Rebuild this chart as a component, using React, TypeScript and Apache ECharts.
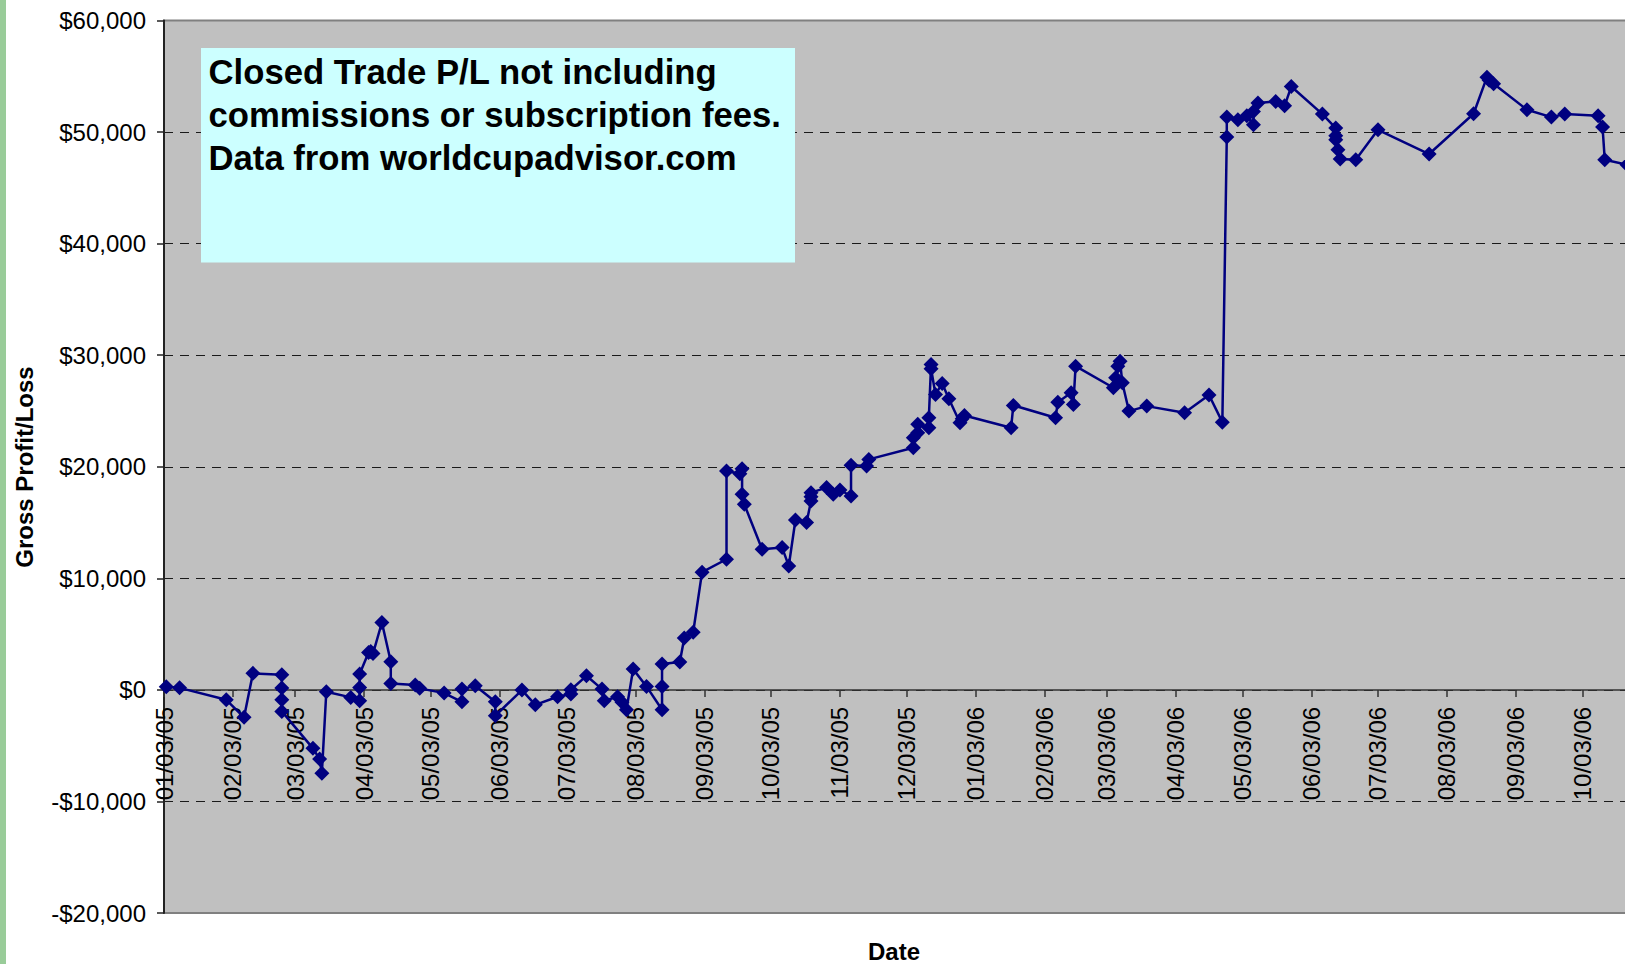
import React, { useEffect, useRef } from "react";
import * as echarts from "echarts";

// Trade dates (YYYY-MM-DD) and cumulative gross profit/loss in dollars
const tradeDates: string[] = [
  "2005-01-04", "2005-01-10", "2005-01-31", "2005-02-08", "2005-02-12",
  "2005-02-25", "2005-02-25", "2005-02-25", "2005-02-25",
  "2005-03-11", "2005-03-14", "2005-03-15", "2005-03-17", "2005-03-28",
  "2005-04-01", "2005-04-01", "2005-04-01",
  "2005-04-05", "2005-04-06", "2005-04-07", "2005-04-11",
  "2005-04-15", "2005-04-15", "2005-04-26", "2005-04-28",
  "2005-05-09", "2005-05-17", "2005-05-17", "2005-05-23",
  "2005-06-01", "2005-06-01", "2005-06-13", "2005-06-19", "2005-06-29",
  "2005-07-05", "2005-07-05", "2005-07-12", "2005-07-19", "2005-07-20",
  "2005-07-26", "2005-07-28", "2005-07-30", "2005-08-02", "2005-08-08",
  "2005-08-15", "2005-08-15", "2005-08-15", "2005-08-23", "2005-08-25",
  "2005-08-29", "2005-09-02", "2005-09-13", "2005-09-13",
  "2005-09-19", "2005-09-20", "2005-09-20", "2005-09-21",
  "2005-09-29", "2005-10-08", "2005-10-11", "2005-10-14", "2005-10-19",
  "2005-10-21", "2005-10-21", "2005-10-21", "2005-10-28", "2005-10-31",
  "2005-11-03", "2005-11-08", "2005-11-08", "2005-11-15", "2005-11-16",
  "2005-12-06", "2005-12-06", "2005-12-08", "2005-12-08",
  "2005-12-13", "2005-12-13", "2005-12-14", "2005-12-14",
  "2005-12-16", "2005-12-19", "2005-12-22", "2005-12-27", "2005-12-28", "2005-12-29",
  "2006-01-19", "2006-01-20", "2006-02-08", "2006-02-09", "2006-02-15",
  "2006-02-16", "2006-02-17", "2006-03-06", "2006-03-07", "2006-03-08",
  "2006-03-09", "2006-03-10", "2006-03-13", "2006-03-21", "2006-04-07",
  "2006-04-18", "2006-04-24", "2006-04-26", "2006-04-26",
  "2006-05-01", "2006-05-05", "2006-05-08", "2006-05-08", "2006-05-10",
  "2006-05-18", "2006-05-22", "2006-05-25", "2006-06-08",
  "2006-06-14", "2006-06-14", "2006-06-14", "2006-06-15", "2006-06-16",
  "2006-06-23", "2006-07-03", "2006-07-26", "2006-08-15",
  "2006-08-21", "2006-08-22", "2006-08-24", "2006-09-08", "2006-09-19",
  "2006-09-25", "2006-10-10", "2006-10-12", "2006-10-13", "2006-10-23",
];

const profitLoss: number[] = [
  280, 180, -890, -2460, 1480,
  1350, 160, -890, -1930,
  -5240, -6200, -7475, -170, -675,
  -975, 220, 1415,
  3350, 3450, 3250, 6040,
  2515, 580, 430, 135,
  -290, -1065, 70, 370,
  -1065, -2320, -20, -1340, -615,
  -375, 10, 1260, 70, -975,
  -615, -1120, -1780, 1860, 310,
  -1780, 310, 2310, 2490, 4650,
  5170, 10550, 11710, 19615,
  19380, 19830, 17530, 16630,
  12605, 12755, 11110, 15230, 14995,
  16930, 17300, 17680, 18130, 17530,
  17915, 17380, 20125, 20065, 20660,
  21710, 22600, 23050, 23800,
  23500, 24400, 29170, 28780,
  26480, 27470, 26100, 23950, 24300, 24600,
  23500, 25500, 24395, 25790, 26630,
  25585, 29015, 27080, 27975, 29015,
  29460, 27530, 24990, 25435, 24840,
  26430, 24000, 49550, 51340,
  51100, 51460, 50650, 51845, 52595,
  52740, 52355, 54080, 51610,
  50360, 49670, 49310, 48415, 47580,
  47520, 50200, 48030, 51640,
  54920, 54650, 54325, 52000, 51340,
  51610, 51460, 50450, 47520, 47070,
];

// Month tick dates on the x axis (labels shown as MM/DD/YY)
const tickDates: string[] = [
  "2005-01-03", "2005-02-03", "2005-03-03", "2005-04-03", "2005-05-03",
  "2005-06-03", "2005-07-03", "2005-08-03", "2005-09-03", "2005-10-03",
  "2005-11-03", "2005-12-03", "2006-01-03", "2006-02-03", "2006-03-03",
  "2006-04-03", "2006-05-03", "2006-06-03", "2006-07-03", "2006-08-03",
  "2006-09-03", "2006-10-03",
];

const xMinDate = "2005-01-03";
const xMaxDate = "2006-10-23";
const yMin = -20000;
const yMax = 60000;
const yStep = 10000;

const noteLines: string[] = [
  "Closed Trade P/L not including",
  "commissions or subscription fees.",
  "Data from worldcupadvisor.com",
];

function toTime(s: string): number {
  const [y, m, d] = s.split("-").map(Number);
  return new Date(y, m - 1, d).getTime();
}

function pad(n: number): string {
  return n < 10 ? "0" + n : String(n);
}

function fmtDate(t: number): string {
  const d = new Date(t);
  return pad(d.getMonth() + 1) + "/" + pad(d.getDate()) + "/" + pad(d.getFullYear() % 100);
}

function fmtMoney(v: number): string {
  const s = "$" + Math.abs(v).toLocaleString("en-US");
  return v < 0 ? "-" + s : s;
}

const FONT = "'Liberation Sans', Arial, sans-serif";

const GRID_TOP = 20.5;
const GRID_BOTTOM = 51;
const CHART_H = 964;

export default function App() {
  const ref = useRef<HTMLDivElement>(null);

  useEffect(() => {
    if (!ref.current) return;
    const chart = echarts.init(ref.current, null, { renderer: "svg" });

    const seriesData = tradeDates.map((d, i) => [toTime(d), profitLoss[i]]);
    const ticks = tickDates.map(toTime);
    const nLines = (yMax - yMin) / yStep + 1;
    const splitColors: string[] = [];
    for (let i = 0; i < nLines; i++) {
      splitColors.push(i === 0 || i === nLines - 1 ? "rgba(0,0,0,0)" : "#1a1a1a");
    }
    // move the date axis (line, ticks, labels) from the grid bottom up to the $0 level
    const plotH = CHART_H - GRID_TOP - GRID_BOTTOM;
    const zeroOffset = -plotH * (0 - yMin) / (yMax - yMin);

    const textEls: any[] = noteLines.map((t, i) => ({
      type: "text",
      z: 20,
      x: 208.5,
      y: 71.5 + i * 43.4,
      style: {
        text: t,
        fill: "#000",
        font: "bold 34.7px " + FONT,
        align: "left",
        verticalAlign: "middle",
      },
    }));

    chart.setOption({
      animation: false,
      backgroundColor: "#ffffff",
      grid: {
        left: 164,
        right: -2,
        top: GRID_TOP,
        bottom: GRID_BOTTOM,
        containLabel: false,
        outerBoundsMode: "none",
        show: true,
        backgroundColor: "#C0C0C0",
        borderColor: "#808080",
        borderWidth: 2,
      },
      xAxis: {
        type: "value",
        position: "bottom",
        offset: zeroOffset,
        min: toTime(xMinDate),
        max: toTime(xMaxDate),
        axisLine: { onZero: false, lineStyle: { color: "#333", width: 1.5 } },
        axisTick: {
          show: true,
          length: 7,
          customValues: ticks,
          lineStyle: { color: "#333", width: 1.5 },
        },
        axisLabel: {
          customValues: ticks,
          rotate: 90,
          margin: 17,
          fontSize: 24,
          fontFamily: FONT,
          color: "#000",
          formatter: (v: number) => fmtDate(v),
        },
        splitLine: { show: false },
      },
      yAxis: {
        type: "value",
        min: yMin,
        max: yMax,
        interval: yStep,
        axisLine: { show: true, onZero: false, lineStyle: { color: "#222", width: 2 } },
        axisTick: { show: true, length: 7, lineStyle: { color: "#222", width: 1.5 } },
        axisLabel: {
          margin: 18,
          fontSize: 24,
          fontFamily: FONT,
          color: "#000",
          formatter: (v: number) => fmtMoney(v),
        },
        splitLine: {
          show: true,
          lineStyle: { color: splitColors, type: [9, 7], width: 1.2 },
        },
      },
      series: [
        {
          type: "line",
          data: seriesData,
          symbol: "diamond",
          symbolSize: 15,
          showAllSymbol: true,
          lineStyle: { color: "#000080", width: 2.5 },
          itemStyle: { color: "#000080" },
          z: 5,
        },
      ],
      graphic: [
        {
          type: "rect",
          z: 20,
          shape: { x: 0, y: 0, width: 6, height: 964 },
          style: { fill: "#99CC99" },
        },
        {
          type: "rect",
          z: 19,
          shape: { x: 201, y: 48, width: 594, height: 214.5 },
          style: { fill: "#CCFFFF" },
        },
        ...textEls,
        {
          type: "text",
          z: 20,
          x: 24.4,
          y: 467,
          rotation: Math.PI / 2,
          style: {
            text: "Gross Profit/Loss",
            fill: "#000",
            font: "bold 24px " + FONT,
            align: "center",
            verticalAlign: "middle",
          },
        },
        {
          type: "text",
          z: 20,
          x: 894,
          y: 951,
          style: {
            text: "Date",
            fill: "#000",
            font: "bold 24px " + FONT,
            align: "center",
            verticalAlign: "middle",
          },
        },
      ],
    });

    return () => chart.dispose();
  }, []);

  return (
    <div
      ref={ref}
      style={{ position: "fixed", left: 0, top: 0, width: 1625, height: 964, background: "#fff" }}
    />
  );
}
